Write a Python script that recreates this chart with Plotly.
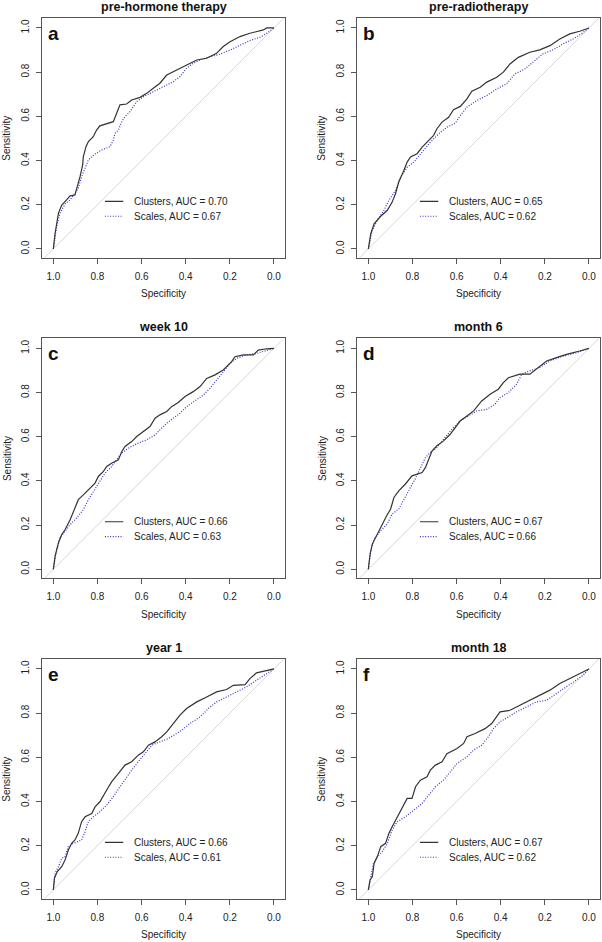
import plotly.graph_objects as go

W, H = 602, 942

panel_titles = ["pre-hormone therapy", "pre-radiotherapy", "week 10", "month 6", "year 1", "month 18"]
panel_letters = ["a", "b", "c", "d", "e", "f"]
auc_clusters = ["0.70", "0.65", "0.66", "0.67", "0.66", "0.67"]
auc_scales = ["0.67", "0.62", "0.63", "0.66", "0.61", "0.62"]
tick_vals = [0.0, 0.2, 0.4, 0.6, 0.8, 1.0]
tick_text = ["0.0", "0.2", "0.4", "0.6", "0.8", "1.0"]

# ---- panel a ----
a_clu_spec = [1, 0.992, 0.977, 0.962, 0.940, 0.924, 0.902, 0.891, 0.879, 0.867, 0.864, 0.852, 0.841, 0.819, 0.804, 0.789, 0.758, 0.728, 0.713, 0.698, 0.668, 0.645, 0.607, 0.577, 0.547, 0.517, 0.486, 0.456, 0.426, 0.396, 0.350, 0.305, 0.260, 0.230, 0.199, 0.154, 0.109, 0.048, 0.033, 0]
a_clu_sens = [0, 0.071, 0.161, 0.199, 0.222, 0.240, 0.244, 0.282, 0.327, 0.380, 0.418, 0.463, 0.486, 0.508, 0.538, 0.557, 0.566, 0.576, 0.614, 0.652, 0.656, 0.674, 0.686, 0.704, 0.727, 0.750, 0.787, 0.802, 0.818, 0.833, 0.855, 0.863, 0.885, 0.916, 0.938, 0.961, 0.976, 0.991, 1.0, 1.0]
a_sca_spec = [1, 0.985, 0.970, 0.947, 0.924, 0.902, 0.887, 0.872, 0.857, 0.841, 0.811, 0.781, 0.743, 0.728, 0.721, 0.705, 0.690, 0.675, 0.653, 0.622, 0.592, 0.547, 0.502, 0.456, 0.426, 0.396, 0.366, 0.335, 0.290, 0.245, 0.199, 0.154, 0.109, 0.063, 0.033, 0]
a_sca_sens = [0, 0.101, 0.161, 0.204, 0.222, 0.252, 0.275, 0.327, 0.365, 0.403, 0.430, 0.448, 0.463, 0.493, 0.523, 0.538, 0.576, 0.599, 0.621, 0.667, 0.689, 0.712, 0.735, 0.757, 0.780, 0.818, 0.840, 0.855, 0.870, 0.881, 0.900, 0.923, 0.943, 0.958, 0.976, 1.0]

# ---- panel b ----
b_clu_spec = [1, 0.989, 0.974, 0.944, 0.914, 0.892, 0.877, 0.862, 0.839, 0.824, 0.809, 0.779, 0.756, 0.734, 0.704, 0.689, 0.666, 0.636, 0.614, 0.583, 0.553, 0.531, 0.493, 0.463, 0.418, 0.388, 0.358, 0.320, 0.268, 0.223, 0.177, 0.132, 0.087, 0.042, 0]
b_clu_sens = [0, 0.069, 0.114, 0.148, 0.175, 0.212, 0.250, 0.303, 0.355, 0.393, 0.416, 0.431, 0.461, 0.483, 0.514, 0.544, 0.574, 0.596, 0.630, 0.645, 0.679, 0.714, 0.732, 0.755, 0.777, 0.800, 0.837, 0.867, 0.890, 0.901, 0.920, 0.950, 0.973, 0.985, 1.0]
b_sca_spec = [1, 0.982, 0.959, 0.929, 0.907, 0.877, 0.854, 0.824, 0.794, 0.756, 0.719, 0.681, 0.644, 0.606, 0.583, 0.553, 0.508, 0.463, 0.418, 0.373, 0.335, 0.290, 0.253, 0.208, 0.162, 0.117, 0.072, 0.035, 0]
b_sca_sens = [0, 0.084, 0.130, 0.175, 0.220, 0.265, 0.325, 0.370, 0.393, 0.438, 0.483, 0.521, 0.551, 0.569, 0.604, 0.642, 0.672, 0.694, 0.724, 0.747, 0.792, 0.815, 0.845, 0.883, 0.901, 0.928, 0.950, 0.973, 1.0]

# ---- panel c ----
c_clu_spec = [1, 0.992, 0.977, 0.962, 0.947, 0.924, 0.902, 0.887, 0.864, 0.834, 0.811, 0.796, 0.773, 0.758, 0.736, 0.705, 0.690, 0.675, 0.645, 0.622, 0.592, 0.562, 0.539, 0.517, 0.486, 0.464, 0.434, 0.403, 0.366, 0.335, 0.305, 0.267, 0.230, 0.192, 0.177, 0.139, 0.094, 0.071, 0.033, 0]
c_clu_sens = [0, 0.059, 0.119, 0.157, 0.179, 0.224, 0.277, 0.315, 0.337, 0.367, 0.390, 0.420, 0.443, 0.465, 0.480, 0.495, 0.533, 0.556, 0.578, 0.601, 0.623, 0.646, 0.684, 0.699, 0.714, 0.736, 0.755, 0.782, 0.804, 0.827, 0.864, 0.880, 0.902, 0.940, 0.962, 0.970, 0.970, 0.992, 0.998, 1.0]
c_sca_spec = [1, 0.988, 0.970, 0.947, 0.924, 0.894, 0.864, 0.841, 0.819, 0.789, 0.766, 0.736, 0.713, 0.690, 0.660, 0.622, 0.577, 0.539, 0.517, 0.486, 0.456, 0.426, 0.396, 0.350, 0.320, 0.290, 0.260, 0.222, 0.199, 0.169, 0.124, 0.079, 0.033, 0]
c_sca_sens = [0, 0.074, 0.142, 0.172, 0.202, 0.232, 0.270, 0.315, 0.352, 0.398, 0.435, 0.465, 0.495, 0.526, 0.548, 0.568, 0.586, 0.608, 0.631, 0.661, 0.684, 0.706, 0.736, 0.767, 0.789, 0.819, 0.857, 0.902, 0.932, 0.955, 0.970, 0.977, 0.992, 1.0]

# ---- panel d ----
d_clu_spec = [1, 0.992, 0.982, 0.959, 0.937, 0.917, 0.899, 0.884, 0.862, 0.832, 0.802, 0.756, 0.741, 0.726, 0.711, 0.689, 0.659, 0.629, 0.606, 0.583, 0.553, 0.523, 0.486, 0.448, 0.411, 0.388, 0.365, 0.313, 0.268, 0.230, 0.192, 0.147, 0.102, 0.042, 0]
d_clu_sens = [0, 0.069, 0.114, 0.160, 0.205, 0.242, 0.273, 0.325, 0.355, 0.386, 0.423, 0.438, 0.461, 0.498, 0.536, 0.559, 0.581, 0.611, 0.642, 0.672, 0.694, 0.717, 0.762, 0.792, 0.815, 0.845, 0.867, 0.883, 0.883, 0.913, 0.943, 0.958, 0.973, 0.988, 1.0]
d_sca_spec = [1, 0.989, 0.974, 0.944, 0.914, 0.892, 0.862, 0.839, 0.809, 0.788, 0.764, 0.741, 0.719, 0.689, 0.659, 0.621, 0.583, 0.546, 0.508, 0.463, 0.426, 0.403, 0.365, 0.328, 0.305, 0.268, 0.223, 0.177, 0.117, 0.057, 0]
d_sca_sens = [0, 0.084, 0.137, 0.175, 0.205, 0.250, 0.273, 0.318, 0.370, 0.408, 0.461, 0.506, 0.529, 0.551, 0.589, 0.634, 0.672, 0.694, 0.717, 0.724, 0.747, 0.777, 0.800, 0.837, 0.883, 0.898, 0.913, 0.943, 0.965, 0.980, 1.0]

# ---- panel e ----
e_clu_spec = [1, 0.995, 0.982, 0.962, 0.947, 0.932, 0.917, 0.902, 0.887, 0.872, 0.856, 0.826, 0.811, 0.789, 0.758, 0.736, 0.705, 0.675, 0.645, 0.615, 0.592, 0.569, 0.539, 0.509, 0.486, 0.456, 0.426, 0.396, 0.350, 0.305, 0.260, 0.215, 0.184, 0.131, 0.109, 0.079, 0.033, 0]
e_clu_sens = [0, 0.053, 0.083, 0.105, 0.136, 0.181, 0.211, 0.226, 0.256, 0.309, 0.331, 0.346, 0.376, 0.399, 0.452, 0.489, 0.527, 0.565, 0.580, 0.610, 0.625, 0.655, 0.670, 0.693, 0.715, 0.753, 0.791, 0.821, 0.851, 0.873, 0.896, 0.907, 0.926, 0.929, 0.956, 0.982, 0.994, 1.0]
e_sca_spec = [1, 0.992, 0.977, 0.962, 0.947, 0.932, 0.909, 0.872, 0.856, 0.841, 0.819, 0.789, 0.758, 0.728, 0.698, 0.668, 0.645, 0.615, 0.585, 0.554, 0.517, 0.479, 0.441, 0.418, 0.381, 0.335, 0.297, 0.260, 0.215, 0.169, 0.124, 0.079, 0.033, 0]
e_sca_sens = [0, 0.075, 0.105, 0.143, 0.151, 0.196, 0.211, 0.226, 0.264, 0.309, 0.331, 0.354, 0.384, 0.422, 0.467, 0.512, 0.542, 0.580, 0.617, 0.655, 0.670, 0.685, 0.708, 0.723, 0.753, 0.783, 0.821, 0.851, 0.873, 0.896, 0.919, 0.949, 0.979, 1.0]

# ---- panel f ----
f_clu_spec = [1, 0.992, 0.982, 0.974, 0.959, 0.944, 0.922, 0.907, 0.892, 0.869, 0.854, 0.839, 0.824, 0.802, 0.786, 0.764, 0.734, 0.719, 0.696, 0.666, 0.644, 0.598, 0.568, 0.553, 0.516, 0.471, 0.441, 0.403, 0.358, 0.313, 0.268, 0.223, 0.177, 0.132, 0.087, 0.042, 0]
f_clu_sens = [0, 0.045, 0.060, 0.120, 0.151, 0.196, 0.211, 0.256, 0.286, 0.331, 0.361, 0.392, 0.414, 0.414, 0.467, 0.497, 0.512, 0.542, 0.565, 0.580, 0.617, 0.640, 0.663, 0.693, 0.708, 0.730, 0.753, 0.806, 0.813, 0.836, 0.858, 0.881, 0.904, 0.934, 0.956, 0.979, 1.0]
f_sca_spec = [1, 0.989, 0.977, 0.959, 0.937, 0.914, 0.892, 0.869, 0.832, 0.794, 0.756, 0.726, 0.696, 0.659, 0.621, 0.598, 0.553, 0.523, 0.486, 0.456, 0.433, 0.403, 0.365, 0.328, 0.283, 0.238, 0.192, 0.147, 0.102, 0.057, 0.027, 0]
f_sca_sens = [0, 0.053, 0.120, 0.151, 0.173, 0.211, 0.271, 0.309, 0.331, 0.361, 0.392, 0.429, 0.467, 0.497, 0.542, 0.572, 0.602, 0.633, 0.655, 0.693, 0.730, 0.761, 0.783, 0.806, 0.828, 0.851, 0.858, 0.889, 0.919, 0.949, 0.971, 1.0]

clusters = [(a_clu_spec, a_clu_sens), (b_clu_spec, b_clu_sens), (c_clu_spec, c_clu_sens),
            (d_clu_spec, d_clu_sens), (e_clu_spec, e_clu_sens), (f_clu_spec, f_clu_sens)]
scales = [(a_sca_spec, a_sca_sens), (b_sca_spec, b_sca_sens), (c_sca_spec, c_sca_sens),
          (d_sca_spec, d_sca_sens), (e_sca_spec, e_sca_sens), (f_sca_spec, f_sca_sens)]

# ---- layout geometry (pixels) ----
col_box = [(42.3, 285.0), (357.3, 600.0)]
row_box = [(18.0, 257.8), (338.4, 578.1), (659.0, 898.8)]
XR = [1.05, -0.05]
YR = [-0.04, 1.045]

FONT = "Liberation Sans, Arial, sans-serif"
TXT = "#222222"
BOX = "#555555"
CLU_COL = "#333333"
SCA_COL = "#3535c0"
DOT = "1px,1.6px"
DIAG_COL = "#d8d8d8"

fig = go.Figure()

def px_x(p):
    return p / W

def px_y(p):
    return 1 - p / H

annotations = []
for i in range(6):
    r, c = divmod(i, 2)
    k = i + 1
    xa = "x" if k == 1 else f"x{k}"
    ya = "y" if k == 1 else f"y{k}"
    x0, x1 = col_box[c]
    y0, y1 = row_box[r]
    fig.update_layout(**{
        ("xaxis" if k == 1 else f"xaxis{k}"): dict(
            domain=[px_x(x0), px_x(x1)], range=XR, anchor=ya,
            showgrid=False, zeroline=False, showline=True, mirror=True,
            linecolor=BOX, linewidth=1, ticks="outside", ticklen=5, tickcolor=BOX,
            tickvals=tick_vals, ticktext=tick_text, ticklabelstandoff=4,
            tickfont=dict(family=FONT, size=10, color=TXT), fixedrange=True),
        ("yaxis" if k == 1 else f"yaxis{k}"): dict(
            domain=[px_y(y1), px_y(y0)], range=YR, anchor=xa,
            showgrid=False, zeroline=False, showline=True, mirror=True,
            linecolor=BOX, linewidth=1, ticks="outside", ticklen=5, tickcolor=BOX,
            tickvals=tick_vals, ticktext=tick_text, tickangle=-90, ticklabelstandoff=3,
            tickfont=dict(family=FONT, size=10, color=TXT), fixedrange=True),
    })
    # diagonal reference line (sensitivity = 1 - specificity), spanning the axis range
    dx = [XR[0] + 0.02, XR[1] - 0.02]
    fig.add_trace(go.Scatter(x=dx, y=[1 - v for v in dx], mode="lines",
                             line=dict(color=DIAG_COL, width=1), xaxis=xa, yaxis=ya,
                             showlegend=False, hoverinfo="skip"))
    sx, sy = scales[i]
    fig.add_trace(go.Scatter(x=sx, y=sy, mode="lines", name=f"Scales, AUC = {auc_scales[i]}",
                             line=dict(color=SCA_COL, width=1.2, dash=DOT),
                             xaxis=xa, yaxis=ya, showlegend=False))
    cx, cy = clusters[i]
    fig.add_trace(go.Scatter(x=cx, y=cy, mode="lines", name=f"Clusters, AUC = {auc_clusters[i]}",
                             line=dict(color=CLU_COL, width=1.2),
                             xaxis=xa, yaxis=ya, showlegend=False))

    # legend drawn inside the panel
    for j, (lab, col, dash, ly, lw) in enumerate([
            (f"Clusters, AUC = {auc_clusters[i]}", CLU_COL, "solid", 0.215, 1.2),
            (f"Scales, AUC = {auc_scales[i]}", SCA_COL, DOT, 0.148, 1.2)]):
        fig.add_shape(type="line", xref=xa, yref=ya, x0=0.766, x1=0.683, y0=ly, y1=ly,
                      line=dict(color=col, width=lw, dash=dash))
        annotations.append(dict(xref=xa, yref=ya, x=0.645, y=ly, text=lab, showarrow=False,
                                xanchor="left", yanchor="middle",
                                font=dict(family=FONT, size=10, color=TXT)))

    # panel letter
    annotations.append(dict(xref=xa, yref=ya, x=1.032, y=0.975, text=panel_letters[i],
                            showarrow=False, xanchor="left", yanchor="middle",
                            font=dict(family=FONT, size=19, color="#111111", weight="bold")))
    # title
    cxp = (x0 + x1) / 2
    annotations.append(dict(xref="paper", yref="paper", x=px_x(cxp), y=px_y(y0 - 11),
                            text=panel_titles[i], showarrow=False, xanchor="center",
                            yanchor="middle",
                            font=dict(family=FONT, size=12.5, color="#111111", weight="bold")))
    # axis titles
    annotations.append(dict(xref="paper", yref="paper", x=px_x(cxp), y=px_y(y1 + 36),
                            text="Specificity", showarrow=False, xanchor="center",
                            yanchor="middle", font=dict(family=FONT, size=10, color=TXT)))
    annotations.append(dict(xref="paper", yref="paper", x=px_x(x0 - 35.5), y=px_y((y0 + y1) / 2),
                            text="Sensitivity", showarrow=False, xanchor="center",
                            yanchor="middle", textangle=-90,
                            font=dict(family=FONT, size=10, color=TXT)))

fig.update_layout(width=W, height=H, margin=dict(l=0, r=0, t=0, b=0),
                  paper_bgcolor="white", plot_bgcolor="white",
                  showlegend=False, annotations=annotations)

fig.write_html("out.html", config={"displayModeBar": False},
               post_script="document.body.style.margin='0';document.body.style.overflow='hidden';")
